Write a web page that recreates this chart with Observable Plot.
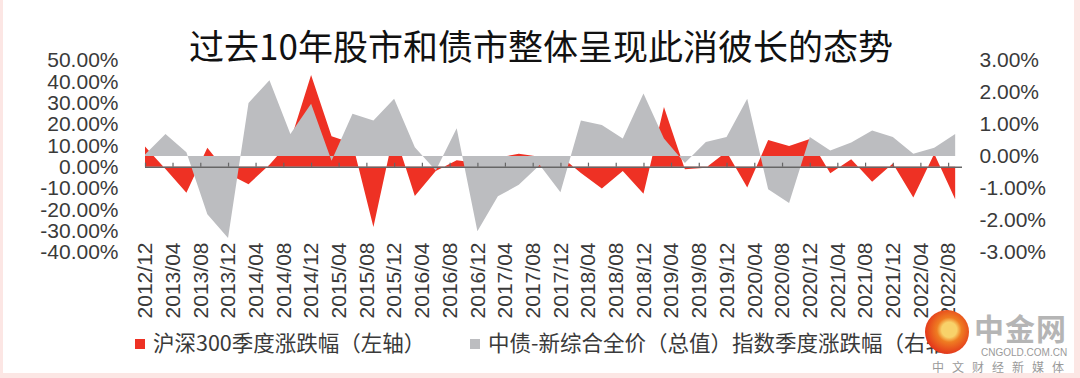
<!DOCTYPE html>
<html>
<head>
<meta charset="utf-8">
<script src="https://cdn.jsdelivr.net/npm/d3@7"></script>
<script src="https://cdn.jsdelivr.net/npm/@observablehq/plot@0.6"></script>
<style>
  html, body { margin: 0; padding: 0; background: #fff; }
  #wrap { position: relative; width: 1080px; height: 378px; overflow: hidden; background: #fff; }
  #frame { position: absolute; left: 0; top: 0; width: 1080px; height: 378px; pointer-events: none;
           box-shadow: inset 3px 0 0 #fce6e4, inset -6px 0 0 #fce6e4, inset 0 -5px 0 #fce6e4; }
  #chart { position: absolute; left: 0; top: 0; }
  #title { position: absolute; left: 0; width: 1082px; top: 24px; line-height: 42px; text-align: center;
           font-family: "Noto Sans CJK SC", sans-serif; font-size: 35px; color: #111; }
  .leg { position: absolute; top: 328px; line-height: 28px; font-family: "Noto Sans CJK SC", sans-serif;
         font-size: 21.5px; color: #3a3a3a; white-space: nowrap; }
  .sw { display: inline-block; width: 10px; height: 10px; margin-right: 8px; vertical-align: 2px; }
  #logo { position: absolute; left: 925px; top: 310px; width: 44px; height: 44px; border-radius: 50%;
          background: radial-gradient(circle at 55% 45%, #f8d26a 0 22%, #ef7d22 36%, #e4391b 70%); }
  #wm1 { position: absolute; left: 974px; top: 309px; font-family: "Noto Sans CJK SC", sans-serif; font-weight: bold;
         font-size: 30px; line-height: 36px; color: #b5b5b5; letter-spacing: 1px; background: rgba(255,255,255,0.85); }
  #wm2 { position: absolute; left: 981px; top: 347px; font-family: "Liberation Sans", sans-serif; font-size: 10px;
         line-height: 12px; color: #9a9a9a; }
  #wm3 { position: absolute; left: 932px; top: 360px; font-family: "Noto Sans CJK SC", sans-serif; font-size: 12px;
         line-height: 14px; color: #9a9a9a; letter-spacing: 8px; }
</style>
</head>
<body>
<div id="wrap">
  <div id="chart"></div>
  <div id="title">过去10年股市和债市整体呈现此消彼长的态势</div>
  <div class="leg" style="left:135px"><span class="sw" style="background:#EE3124"></span>沪深300季度涨跌幅（左轴）</div>
  <div class="leg" style="left:470px"><span class="sw" style="background:#BCBDC0"></span>中债-新综合全价（总值）指数季度涨跌幅（右轴）</div>
  <div id="logo"></div>
  <div id="wm1">中金网</div>
  <div id="wm2">CNGOLD.COM.CN</div>
  <div id="wm3">中文财经新媒体</div>
  <div id="frame"></div>
</div>
<script>
// quarterly observation dates
const quarters = ["2012/12","2013/03","2013/06","2013/09","2013/12","2014/03","2014/06","2014/09","2014/12",
  "2015/03","2015/06","2015/09","2015/12","2016/03","2016/06","2016/09","2016/12","2017/03","2017/06","2017/09",
  "2017/12","2018/03","2018/06","2018/09","2018/12","2019/03","2019/06","2019/09","2019/12","2020/03","2020/06",
  "2020/09","2020/12","2021/03","2021/06","2021/09","2021/12","2022/03","2022/06","2022/09"];
// 沪深300季度涨跌幅 (%), left axis
const hs300 = [9.4,-1.1,-12.2,8.9,-3.3,-8.2,0.9,12,43,14.3,11,-28.3,16.5,-13.8,-2,3,1.7,4.3,6,4.6,
  5,-3,-10.2,-2,-12.7,28,-1.2,-0.5,7,-9.8,12.5,9.7,13,-3.1,3.5,-7.1,1.5,-14.5,6,-15.3];
// 中债-新综合全价（总值）指数季度涨跌幅 (%), right axis
const bond = [0.05,0.69,0.12,-1.82,-2.56,1.66,2.37,0.69,1.63,-0.15,1.32,1.11,1.79,0.27,-0.45,0.87,-2.35,-1.26,-0.9,-0.28,
  -1.13,1.11,0.97,0.55,1.95,0.55,-0.22,0.44,0.59,1.79,-1.04,-1.47,0.59,0.17,0.42,0.8,0.59,0.07,0.26,0.69];
// axis tick labels
const xTickLabels = ["2012/12","2013/04","2013/08","2013/12","2014/04","2014/08","2014/12","2015/04","2015/08",
  "2015/12","2016/04","2016/08","2016/12","2017/04","2017/08","2017/12","2018/04","2018/08","2018/12","2019/04",
  "2019/08","2019/12","2020/04","2020/08","2020/12","2021/04","2021/08","2021/12","2022/04","2022/08"];
const leftTicks = [-40,-30,-20,-10,0,10,20,30,40,50];
const rightTicks = [-3,-2,-1,0,1,2,3];
const xDomain = ["2012/12","2022/10"];

const parse = s => new Date(Date.UTC(+s.slice(0,4), +s.slice(5,7) - 1, 1));
// right axis (-3%..3%) is aligned with left axis (-40%..50%)
const rightToLeft = v => v * 15 + 5;
const leftToRight = v => (v - 5) / 15;

const data = quarters.map((q, i) => ({date: parse(q), hs: hs300[i], bond: bond[i]}));
const tickDates = xTickLabels.map(parse);
const pct = v => v.toFixed(2) + "%";

const chart = Plot.plot({
  width: 1080, height: 378,
  marginTop: 60, marginBottom: 126, marginLeft: 145, marginRight: 118,
  x: {type: "utc", domain: xDomain.map(parse), label: null},
  y: {domain: [-40, 50], label: null},
  style: {fontFamily: "'Liberation Sans', Arial, sans-serif", fontSize: "21px", color: "#3a3a3a", background: "transparent", overflow: "visible"},
  marks: [
    Plot.areaY(data, {x: "date", y1: 0, y2: "hs", fill: "#EE3124"}),
    Plot.areaY(data, {x: "date", y1: rightToLeft(0), y2: d => rightToLeft(d.bond), fill: "#BCBDC0"}),
    Plot.ruleY([0], {stroke: "#666", strokeWidth: 1.5}),
    Plot.ruleX(tickDates, {x: d => d, y1: 0, y2: 0, insetTop: -4, stroke: "#666", strokeWidth: 1.2}),
    Plot.axisY(leftTicks, {anchor: "left", label: null, tickSize: 0, tickPadding: 27, tickFormat: pct, fontSize: 21}),
    Plot.axisY(rightTicks.map(rightToLeft), {anchor: "right", label: null, tickSize: 0, tickPadding: 17, tickFormat: d => pct(leftToRight(d)), fontSize: 21}),
    Plot.axisX(tickDates, {anchor: "bottom", label: null, tickSize: 0, tickPadding: -10, tickRotate: -90, tickFormat: d3.utcFormat("%Y/%m"), fontSize: 21})
  ]
});
document.getElementById("chart").appendChild(chart);
</script>
</body>
</html>
